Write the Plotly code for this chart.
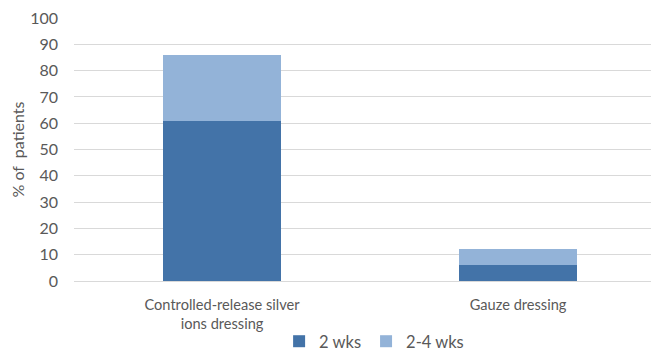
import plotly.graph_objects as go

categories = ["Controlled-release silver<br>ions dressing", "Gauze dressing"]
wks2 = [61, 6]
wks2_4 = [25, 6]
series_names = ["2 wks", "2-4 wks"]

FONT = "Lato"
TXT = "#595959"

fig = go.Figure()
fig.add_bar(x=[0, 1], y=wks2, name=series_names[0], marker_color="#4373A8",
            marker_line_width=0, width=0.4)
fig.add_bar(x=[0, 1], y=wks2_4, name=series_names[1], marker_color="#93B3D8",
            marker_line_width=0, width=0.4)

fig.update_layout(
    barmode="stack",
    width=651, height=351,
    margin=dict(l=66, r=0, t=10, b=71),
    plot_bgcolor="white", paper_bgcolor="white",
    font=dict(family=FONT, color=TXT, size=15),
    showlegend=True,
    legend=dict(orientation="h", x=0.513, xanchor="center", y=-0.23, yanchor="middle",
                font=dict(size=16.5, color=TXT), itemwidth=30, traceorder="normal"),
    xaxis=dict(range=[-0.5, 1.476], tickvals=[0, 1], ticktext=categories,
               showgrid=False, zeroline=False, showline=False, ticks="",
               automargin=False, ticklabelstandoff=13, ticklabeloverflow="allow",
               tickfont=dict(size=14.6, color=TXT)),
    yaxis=dict(range=[0, 100], dtick=10, showgrid=True, gridcolor="#D9D9D9",
               gridwidth=1, zeroline=True, zerolinecolor="#D9D9D9", zerolinewidth=1,
               showline=False, ticks="", tickfont=dict(size=16, color=TXT),
               automargin=False, ticklabelstandoff=15, ticklabeloverflow="allow",
               title=dict(text="% of  patients", font=dict(size=16, color=TXT), standoff=10)),
)

fig.write_html("out.html")
